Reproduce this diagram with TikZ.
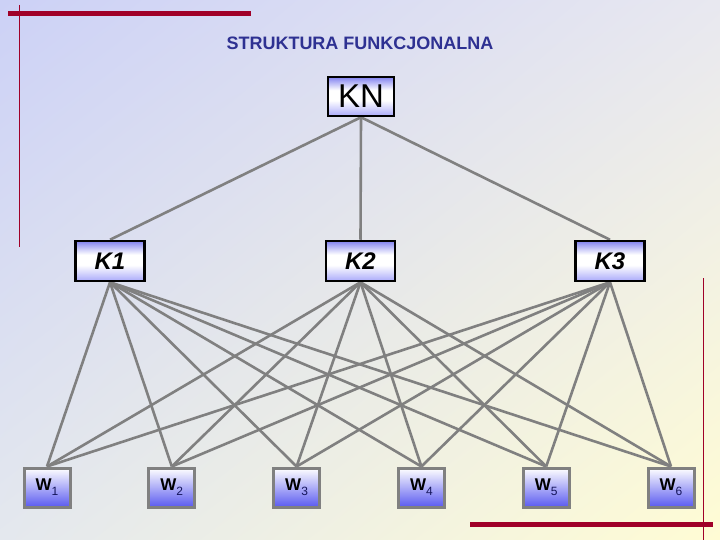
\documentclass[tikz,border=0pt]{standalone}
\usepackage{fontspec}
\setmainfont{Liberation Sans}
\usetikzlibrary{shadings}
\definecolor{redline}{RGB}{160,0,40}
\definecolor{titleblue}{RGB}{46,49,146}
\definecolor{conn}{RGB}{128,128,128}
\definecolor{kblue}{RGB}{130,130,240}
\definecolor{kblue2}{RGB}{170,170,250}
\definecolor{wblue}{RGB}{90,90,240}
\definecolor{subblue}{RGB}{20,20,90}
\definecolor{bgul}{RGB}{204,209,246}
\definecolor{bgur}{RGB}{232,232,240}
\definecolor{bgll}{RGB}{228,232,238}
\definecolor{bglr}{RGB}{255,252,212}
\pgfdeclareverticalshading{kshade}{100bp}{color(0bp)=(kblue2); color(25bp)=(kblue2); color(45bp)=(white); color(58bp)=(white); color(75bp)=(kblue); color(100bp)=(kblue)}
\pgfdeclareverticalshading{wshade}{100bp}{color(0bp)=(wblue); color(25bp)=(wblue); color(75bp)=(white); color(100bp)=(white)}
\pgfdeclarelayer{bglayer}
\pgfdeclarelayer{linklayer}
\pgfsetlayers{bglayer,linklayer,main}
\tikzset{
  kbox/.style={draw=black, line width=2.5pt, minimum width=69pt, minimum height=40pt,
    shading=kshade, inner sep=0pt},
  wbox/.style={draw=conn, line width=3pt, minimum width=46pt, minimum height=39pt,
    shading=wshade, inner sep=0pt},
  link/.style={draw=conn, line width=2.6pt},
  redthick/.style={draw=redline, line width=5pt},
  redthin/.style={draw=redline, line width=1pt},
}
\newcommand{\wlab}[1]{\fontsize{17}{17}\selectfont\bfseries W\raisebox{-5pt}{\mdseries\fontsize{12}{12}\selectfont\color{subblue}#1}}
\begin{document}
\begin{tikzpicture}[x=1pt,y=-1pt]
\useasboundingbox (0,0) rectangle (720,540);
\begin{pgfonlayer}{bglayer}
\shade[upper left=bgul, upper right=bgur, lower left=bgll, lower right=bglr] (0,0) rectangle (720,540);
\end{pgfonlayer}
% decorative red lines
\draw[redthick] (8,14) -- (251,14);
\draw[redthin] (19,5) -- (19,247);
\draw[redthick] (470,524) -- (713,524);
\draw[redthin] (703,278) -- (703,540);
% title
\node[text=titleblue, font=\fontsize{18}{18}\selectfont\bfseries] (title) at (360,43) {STRUKTURA FUNKCJONALNA};
% nodes
\node[kbox, minimum width=66pt, minimum height=39pt, font=\fontsize{33}{33}\selectfont] (KN) at (361,96.5) {KN};
\node[kbox, font=\fontsize{24}{24}\selectfont\bfseries\itshape] (K1) at (110,261) {K1};
\node[kbox, font=\fontsize{24}{24}\selectfont\bfseries\itshape] (K2) at (360.5,261) {K2};
\node[kbox, font=\fontsize{24}{24}\selectfont\bfseries\itshape] (K3) at (610,261) {K3};
\foreach \i [evaluate=\i as \xx using 47+124.8*(\i-1)] in {1,...,6}{
  \node[wbox] (W\i) at (\xx,487.5) {\wlab{\i}};
}
% connectors
\begin{pgfonlayer}{linklayer}
\foreach \k in {1,2,3}{
  \draw[link] (KN.south) -- (K\k.north);
  \foreach \i in {1,...,6}{
    \draw[link] (K\k.south) -- (W\i.north);
  }
}
\end{pgfonlayer}
\end{tikzpicture}
\end{document}
